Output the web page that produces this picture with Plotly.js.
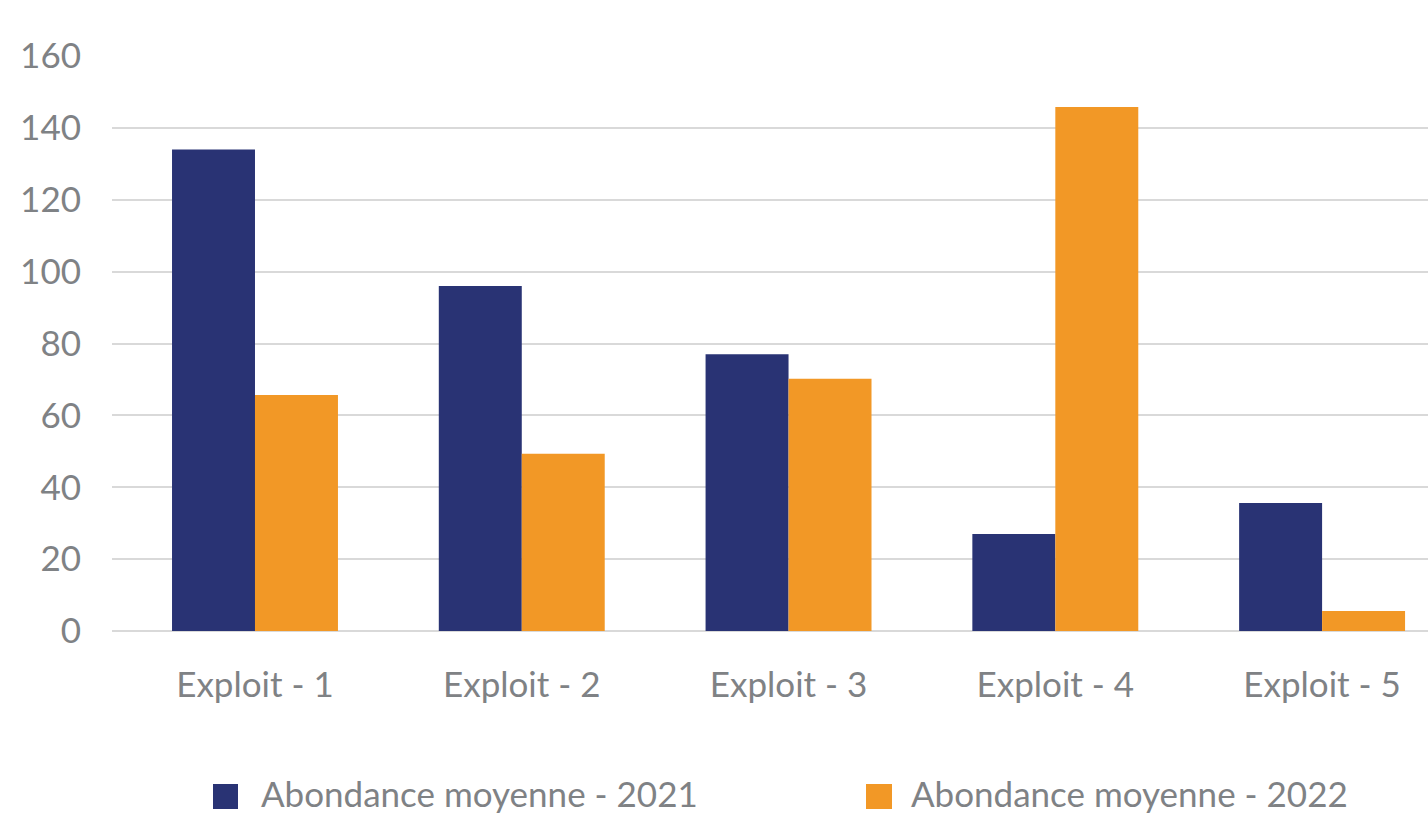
<!DOCTYPE html>
<html>
<head>
<meta charset="utf-8">
<script src="https://cdn.plot.ly/plotly-3.0.1.min.js"></script>
<style>html,body{margin:0;padding:0;background:#fff;}#chart{width:1428px;height:817px;}</style>
</head>
<body>
<div id="chart"></div>
<script>
const categories = ["Exploit - 1", "Exploit - 2", "Exploit - 3", "Exploit - 4", "Exploit - 5"];
const values2021 = [134, 96, 77, 27, 35.6];
const values2022 = [65.7, 49.3, 70.2, 145.8, 5.6];
const seriesNames = ["Abondance moyenne - 2021", "Abondance moyenne - 2022"];
const colors = ["#293374", "#F29826"];
const yTicks = [0, 20, 40, 60, 80, 100, 120, 140, 160];

const FONT = "Lato, 'Open Sans', sans-serif";
const GRAY = "#7f8285";

const traces = [
  {type: "bar", x: categories, y: values2021, name: seriesNames[0], marker: {color: colors[0]}, showlegend: false},
  {type: "bar", x: categories, y: values2022, name: seriesNames[1], marker: {color: colors[1]}, showlegend: false}
];

const layout = {
  width: 1428, height: 817,
  margin: {l: 112, r: 0, t: 56, b: 186},
  paper_bgcolor: "#ffffff", plot_bgcolor: "#ffffff",
  barmode: "group", bargap: 0.378, bargroupgap: 0,
  font: {family: FONT, color: GRAY, size: 35},
  xaxis: {
    type: "category",
    range: [-0.536, 4.397],
    showgrid: false, zeroline: false, showline: false,
    ticks: "", tickfont: {size: 35, color: GRAY},
    ticklabelstandoff: 30
  },
  yaxis: {
    range: [0, 160], tickvals: yTicks, ticktext: yTicks.map(String),
    showgrid: true, gridcolor: "#d9d9d9", gridwidth: 2,
    zeroline: true, zerolinecolor: "#d9d9d9", zerolinewidth: 2,
    showline: false, ticks: "", tickfont: {size: 35, color: GRAY},
    ticklabelstandoff: 30
  },
  showlegend: false,
  shapes: [
    {type: "rect", xref: "paper", yref: "paper", x0: (213-112)/1316, x1: (238-112)/1316, y0: -(784-631)/575, y1: -(809-631)/575, fillcolor: colors[0], line: {width: 0}},
    {type: "rect", xref: "paper", yref: "paper", x0: (866-112)/1316, x1: (892-112)/1316, y0: -(784-631)/575, y1: -(809-631)/575, fillcolor: colors[1], line: {width: 0}}
  ],
  annotations: [
    {xref: "paper", yref: "paper", x: (259-112)/1316, y: -(793-631)/575, xanchor: "left", yanchor: "middle", text: seriesNames[0], showarrow: false, font: {size: 35, color: GRAY, family: FONT}},
    {xref: "paper", yref: "paper", x: (909-112)/1316, y: -(793-631)/575, xanchor: "left", yanchor: "middle", text: seriesNames[1], showarrow: false, font: {size: 35, color: GRAY, family: FONT}}
  ]
};

Plotly.newPlot("chart", traces, layout, {displayModeBar: false, staticPlot: true});
</script>
</body>
</html>
